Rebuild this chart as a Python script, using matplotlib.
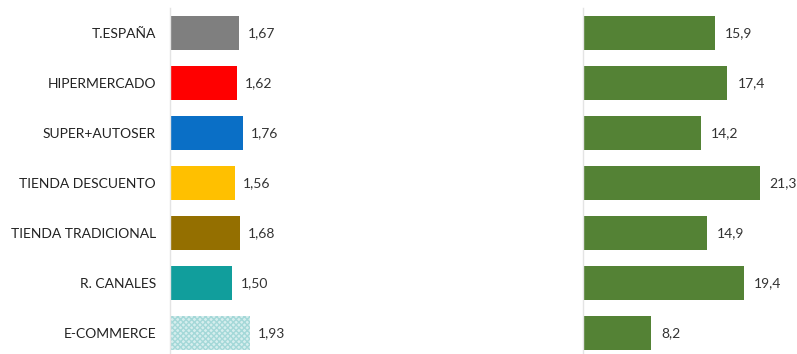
import numpy as np
import matplotlib.pyplot as plt

canales = ['T.ESPAÑA', 'HIPERMERCADO', 'SUPER+AUTOSER', 'TIENDA DESCUENTO',
           'TIENDA TRADICIONAL', 'R. CANALES', 'E-COMMERCE']
precio = [1.67, 1.62, 1.76, 1.56, 1.68, 1.50, 1.93]
cuota = [15.9, 17.4, 14.2, 21.3, 14.9, 19.4, 8.2]
colores = ['#7f7f7f', '#ff0000', '#0a6fc6', '#ffc000', '#946f00', '#119e9c', '#d6eeee']

plt.rcParams['font.family'] = ['Lato', 'DejaVu Sans']

W, H = 797, 354
fig = plt.figure(figsize=(W / 100, H / 100), dpi=100)

# ejes en pixeles: izquierda 170, derecha 583, filas cada 50px desde y=8
top, bottom = 8, 354
alto = (bottom - top) / 50
ax1 = fig.add_axes([170 / W, 0, 230 / W, (bottom - top) / H])
ax2 = fig.add_axes([583 / W, 0, 214 / W, (bottom - top) / H])

y = np.arange(len(canales))

b1 = ax1.barh(y, precio, height=0.69, color=colores)
b1[-1].set_hatch('xxxxxx')
b1[-1].set_edgecolor('#a4d8d8')
b1[-1].set_linewidth(0)
ax1.set_xlim(0, 230 / 41.4)

ax2.barh(y, cuota, height=0.69, color='#548235')
ax2.set_xlim(0, 214 / 8.3)

for ax in (ax1, ax2):
    ax.set_ylim(-0.5 + alto, -0.5)
    for s in ['top', 'right', 'bottom']:
        ax.spines[s].set_visible(False)
    ax.spines['left'].set_color('#e4e4e4')
    ax.spines['left'].set_linewidth(1)
    ax.set_xticks([])
    ax.tick_params(axis='y', length=0)

ax1.set_yticks(y)
ax1.set_yticklabels(canales, fontsize=10, color='#222222')
ax1.tick_params(axis='y', pad=10)
ax2.set_yticks([])

for i, v in enumerate(precio):
    ax1.text(v + 0.2, i, f'{v:.2f}'.replace('.', ','), va='center', ha='left',
             fontsize=10, color='#333333')
for i, v in enumerate(cuota):
    ax2.text(v + 1.2, i, f'{v:.1f}'.replace('.', ','), va='center', ha='left',
             fontsize=10, color='#333333')

fig.savefig('out.png', dpi=100)
